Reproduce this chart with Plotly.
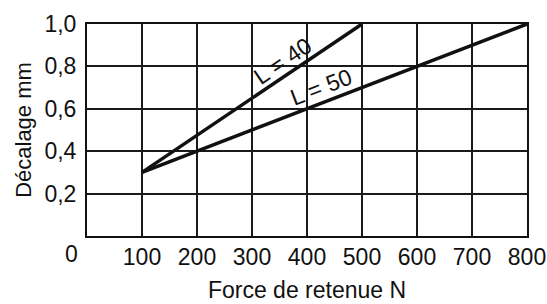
import plotly.graph_objects as go

# Data
force_L40 = [100, 500]
shift_L40 = [0.3, 1.0]
force_L50 = [100, 800]
shift_L50 = [0.3, 1.0]
x_ticks = [100, 200, 300, 400, 500, 600, 700, 800]
y_ticks = [0.2, 0.4, 0.6, 0.8, 1.0]
y_tick_text = ["0,2", "0,4", "0,6", "0,8", "1,0"]
labels = ["L = 40", "L = 50"]
label_pos = [(356, 0.825, -34), (426, 0.705, -21)]

FONT = "Liberation Sans, Arial, sans-serif"

fig = go.Figure()
fig.add_trace(go.Scatter(x=force_L40, y=shift_L40, mode="lines",
                         line=dict(color="#111", width=3.5), showlegend=False))
fig.add_trace(go.Scatter(x=force_L50, y=shift_L50, mode="lines",
                         line=dict(color="#111", width=3.5), showlegend=False))

for txt, (lx, ly, ang) in zip(labels, label_pos):
    fig.add_annotation(x=lx, y=ly, text=txt, showarrow=False, textangle=ang,
                       font=dict(family=FONT, size=23, color="#111"))

# origin label "0"
fig.add_annotation(x=0, y=0, xref="x", yref="paper", text="0", showarrow=False,
                   xanchor="center", yanchor="top", xshift=-16, yshift=-3,
                   font=dict(family=FONT, size=23, color="#111"))

fig.update_layout(
    width=547, height=304,
    margin=dict(l=87, r=20, t=24, b=68),
    paper_bgcolor="white", plot_bgcolor="white",
    font=dict(family=FONT, size=23, color="#111"),
    xaxis=dict(range=[0, 800], tickvals=x_ticks, showgrid=True, gridcolor="#1a1a1a",
               gridwidth=1.6, showline=True, linecolor="#111", linewidth=2,
               mirror=True, ticks="", zeroline=False, automargin=False,
               ticklabelstandoff=-1,
               title=dict(text="Force de retenue N", standoff=13,
                          font=dict(family=FONT, size=23))),
    yaxis=dict(range=[0, 1.0], tickvals=y_ticks, ticktext=y_tick_text,
               showgrid=True, gridcolor="#1a1a1a", gridwidth=1.6, showline=True,
               linecolor="#111", linewidth=2, mirror=True, ticks="",
               zeroline=False, automargin=False, ticklabelstandoff=4,
               title=dict(text="Décalage mm", standoff=7,
                          font=dict(family=FONT, size=22))),
)

fig.write_html("out.html", config={"displayModeBar": False},
               post_script="document.body.style.margin='0';document.body.style.padding='0';")
